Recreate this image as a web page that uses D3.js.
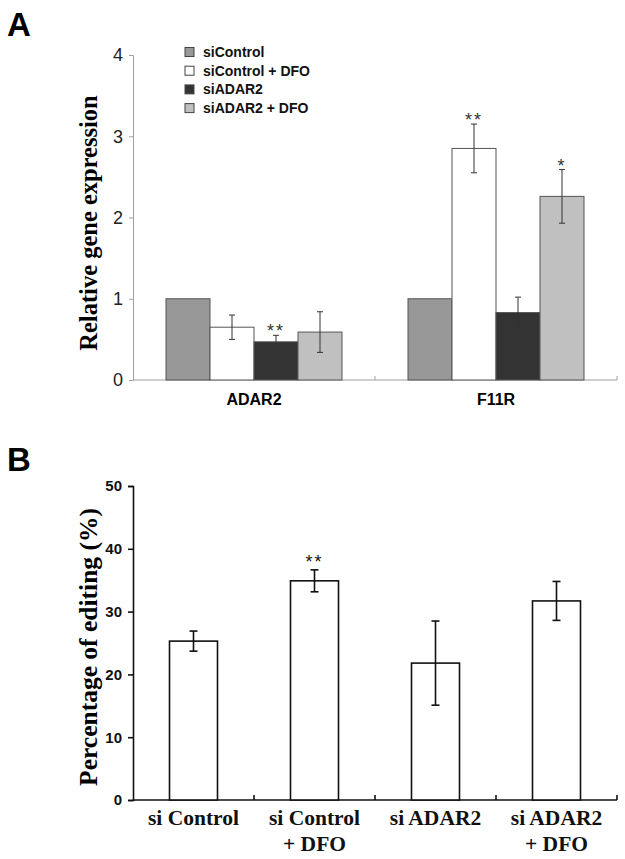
<!DOCTYPE html>
<html>
<head>
<meta charset="utf-8">
<script src="https://cdn.jsdelivr.net/npm/d3@7"></script>
<style>
  body { margin: 0; background: #fff; }
  svg { display: block; }
</style>
</head>
<body>
<div id="chart"></div>
<script>
// Panel A data: relative gene expression
const genes = ["ADAR2", "F11R"];
const groupsA = ["siControl", "siControl + DFO", "siADAR2", "siADAR2 + DFO"];
const colorsA = ["#989898", "#ffffff", "#333333", "#c0c0c0"];
const adar2Vals = [1.0, 0.65, 0.47, 0.59];
const adar2Err = [0, 0.15, 0.08, 0.25];
const f11rVals = [1.0, 2.85, 0.83, 2.26];
const f11rErr = [0, 0.30, 0.19, 0.33];
const adar2Stars = ["", "", "**", ""];
const f11rStars = ["", "**", "", "*"];
const ticksA = [0, 1, 2, 3, 4];

// Panel B data: percentage of editing
const groupsB = [["si Control"], ["si Control", "+ DFO"], ["si ADAR2"], ["si ADAR2", "+ DFO"]];
const editVals = [25.3, 34.9, 21.8, 31.7];
const editErr = [1.6, 1.75, 6.7, 3.1];
const editStars = ["", "**", "", ""];
const ticksB = [0, 10, 20, 30, 40, 50];

const width = 625, height = 859;
const svg = d3.select("#chart").append("svg")
  .attr("width", width).attr("height", height);

/* ---------- Panel A ---------- */
const gA = svg.append("g");
gA.append("text").attr("x", 7).attr("y", 36)
  .attr("font-family", "Liberation Sans, Arial").attr("font-weight", "bold")
  .attr("font-size", 33).text("A");

const yA = d3.scaleLinear().domain([0, 4]).range([380, 55]);
const xA = d3.scaleBand().domain(genes).range([133, 617]).paddingInner(0).paddingOuter(0);
const xInA = d3.scaleBand().domain(d3.range(4)).range([0, 176]);
const offA = (xA.bandwidth() - 176) / 2;

// y axis
const yAxisA = gA.append("g").attr("transform", "translate(133,0)")
  .call(d3.axisLeft(yA).tickValues(ticksA).tickFormat(d3.format("d")).tickSize(4).tickPadding(6));
yAxisA.selectAll("path, line").attr("stroke", "#a0a0a0");
yAxisA.selectAll("text").attr("font-family", "Liberation Sans, Arial")
  .attr("font-size", 18).attr("fill", "#222");

// x axis
const xAxisA = gA.append("g").attr("transform", "translate(0,380)");
xAxisA.append("line").attr("x1", 133).attr("x2", 617).attr("stroke", "#a0a0a0");
xAxisA.selectAll(".tk").data([xA("F11R"), 617]).join("line")
  .attr("x1", d => d).attr("x2", d => d).attr("y1", 0).attr("y2", -4)
  .attr("stroke", "#a0a0a0");
xAxisA.selectAll("text").data(genes).join("text")
  .attr("x", d => xA(d) + xA.bandwidth() / 2).attr("y", 25)
  .attr("text-anchor", "middle")
  .attr("font-family", "Liberation Sans, Arial").attr("font-weight", "bold")
  .attr("font-size", 16).text(d => d);

const rowsA = [
  { gene: "ADAR2", vals: adar2Vals, err: adar2Err, stars: adar2Stars },
  { gene: "F11R", vals: f11rVals, err: f11rErr, stars: f11rStars }
];

rowsA.forEach(row => {
  const g = gA.append("g").attr("transform", `translate(${xA(row.gene) + offA},0)`);
  const items = row.vals.map((v, i) => ({ i, v, e: row.err[i], s: row.stars[i] }));
  g.selectAll("rect").data(items).join("rect")
    .attr("x", d => xInA(d.i)).attr("width", xInA.bandwidth())
    .attr("y", d => yA(d.v)).attr("height", d => yA(0) - yA(d.v))
    .attr("fill", d => colorsA[d.i]).attr("stroke", "#555").attr("stroke-width", 1);
  const eb = items.filter(d => d.e > 0);
  const cx = d => xInA(d.i) + xInA.bandwidth() / 2;
  g.selectAll(".eb").data(eb).join("line").attr("class", "eb")
    .attr("x1", cx).attr("x2", cx)
    .attr("y1", d => yA(d.v + d.e)).attr("y2", d => yA(d.v - d.e))
    .attr("stroke", "#333");
  g.selectAll(".cap").data(eb.flatMap(d => [{ d, y: d.v + d.e }, { d, y: d.v - d.e }]))
    .join("line").attr("class", "cap")
    .attr("x1", o => cx(o.d) - 3).attr("x2", o => cx(o.d) + 3)
    .attr("y1", o => yA(o.y)).attr("y2", o => yA(o.y)).attr("stroke", "#333");
  g.selectAll(".star").data(items.filter(d => d.s)).join("text").attr("class", "star")
    .attr("x", cx).attr("y", d => yA(d.v + d.e) + 2)
    .attr("text-anchor", "middle").attr("font-family", "Liberation Sans, Arial")
    .attr("font-size", 18).attr("fill", "#333").attr("letter-spacing", 2)
    .text(d => d.s);
});

// legend
const legA = gA.append("g").attr("transform", "translate(185,52)");
const lg = legA.selectAll("g").data(groupsA).join("g")
  .attr("transform", (d, i) => `translate(0,${i * 18.7})`);
lg.append("rect").attr("x", 0).attr("y", -4.5).attr("width", 9).attr("height", 9)
  .attr("fill", (d, i) => colorsA[i]).attr("stroke", "#444");
lg.append("text").attr("x", 18).attr("y", 5)
  .attr("font-family", "Liberation Sans, Arial").attr("font-weight", "bold")
  .attr("font-size", 14).attr("fill", "#111").text(d => d);

// y label
gA.append("text").attr("transform", "translate(97,223) rotate(-90)")
  .attr("text-anchor", "middle").attr("font-family", "Liberation Serif, Times New Roman")
  .attr("font-weight", "bold").attr("font-size", 24.5).text("Relative gene expression");

/* ---------- Panel B ---------- */
const gB = svg.append("g");
gB.append("text").attr("x", 7).attr("y", 471)
  .attr("font-family", "Liberation Sans, Arial").attr("font-weight", "bold")
  .attr("font-size", 33).text("B");

const yB = d3.scaleLinear().domain([0, 50]).range([800, 486]);
const xB = d3.scaleBand().domain(d3.range(4)).range([133, 617]).padding(0).paddingInner(0);
const barW = 48;

const yAxisB = gB.append("g").attr("transform", "translate(133,0)")
  .call(d3.axisLeft(yB).tickValues(ticksB).tickSize(5).tickPadding(6));
yAxisB.selectAll("path, line").attr("stroke", "#111").attr("stroke-width", 1.6);
yAxisB.selectAll("text").attr("font-family", "Liberation Sans Narrow, Liberation Sans, Arial")
  .attr("font-weight", "bold").attr("font-size", 15).attr("fill", "#111");

const xAxisB = gB.append("g").attr("transform", "translate(0,800)");
xAxisB.append("line").attr("x1", 133).attr("x2", 617).attr("stroke", "#111").attr("stroke-width", 1.6);
xAxisB.selectAll(".tk").data(d3.range(1, 5)).join("line").attr("class", "tk")
  .attr("x1", i => i < 4 ? xB(i) : 617).attr("x2", i => i < 4 ? xB(i) : 617)
  .attr("y1", 0).attr("y2", -5).attr("stroke", "#111").attr("stroke-width", 1.6);
const lbl = xAxisB.selectAll(".lbl").data(groupsB).join("text").attr("class", "lbl")
  .attr("text-anchor", "middle").attr("font-family", "Liberation Serif, Times New Roman")
  .attr("font-weight", "bold").attr("font-size", 21.5).attr("fill", "#111");
lbl.selectAll("tspan").data((d, i) => d.map(t => ({ t, i }))).join("tspan")
  .attr("x", o => xB(o.i) + xB.bandwidth() / 2)
  .attr("y", (o, j) => 25 + j * 26).text(o => o.t);

const itemsB = editVals.map((v, i) => ({ i, v, e: editErr[i], s: editStars[i] }));
const cxB = d => xB(d.i) + xB.bandwidth() / 2;
gB.selectAll(".bar").data(itemsB).join("rect").attr("class", "bar")
  .attr("x", d => cxB(d) - barW / 2).attr("width", barW)
  .attr("y", d => yB(d.v)).attr("height", d => yB(0) - yB(d.v))
  .attr("fill", "#fff").attr("stroke", "#111").attr("stroke-width", 1.6);
gB.selectAll(".eb").data(itemsB).join("line").attr("class", "eb")
  .attr("x1", cxB).attr("x2", cxB)
  .attr("y1", d => yB(d.v + d.e)).attr("y2", d => yB(d.v - d.e))
  .attr("stroke", "#111").attr("stroke-width", 1.6);
gB.selectAll(".cap").data(itemsB.flatMap(d => [{ d, y: d.v + d.e }, { d, y: d.v - d.e }]))
  .join("line").attr("class", "cap")
  .attr("x1", o => cxB(o.d) - 4).attr("x2", o => cxB(o.d) + 4)
  .attr("y1", o => yB(o.y)).attr("y2", o => yB(o.y))
  .attr("stroke", "#111").attr("stroke-width", 1.6);
gB.selectAll(".star").data(itemsB.filter(d => d.s)).join("text").attr("class", "star")
  .attr("x", cxB).attr("y", d => yB(d.v + d.e) - 2)
  .attr("text-anchor", "middle").attr("font-family", "Liberation Sans, Arial")
  .attr("font-size", 18).attr("fill", "#111").attr("letter-spacing", 2).text(d => d.s);

gB.append("text").attr("transform", "translate(97,647) rotate(-90)")
  .attr("text-anchor", "middle").attr("font-family", "Liberation Serif, Times New Roman")
  .attr("font-weight", "bold").attr("font-size", 25.5).text("Percentage of editing (%)");
</script>
</body>
</html>
